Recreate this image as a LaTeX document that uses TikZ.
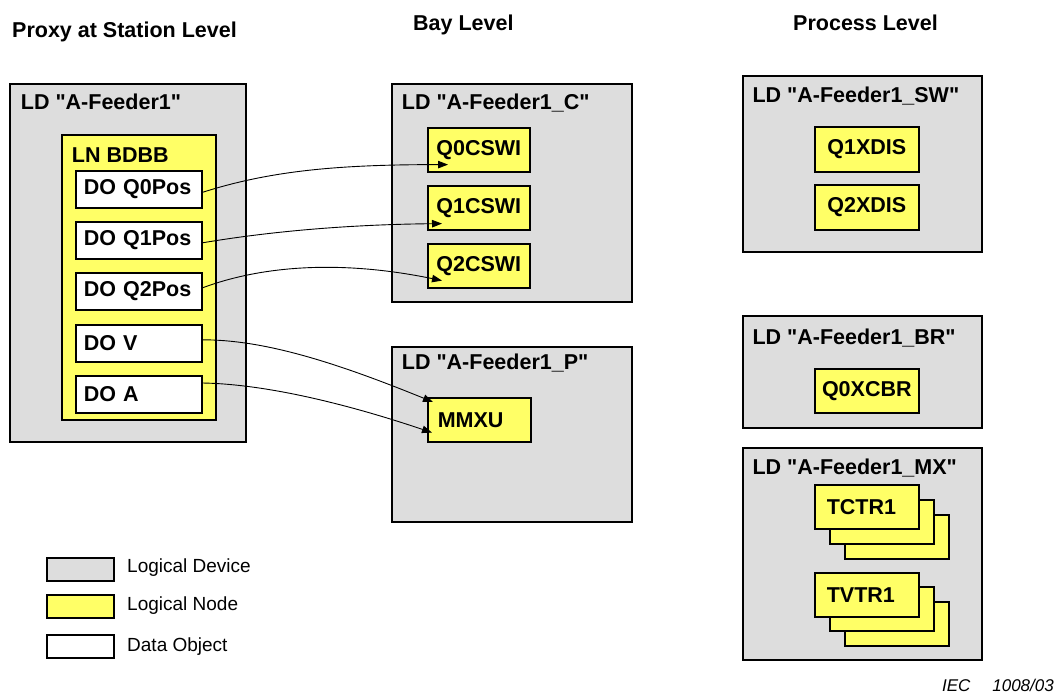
\documentclass[tikz,border=0pt]{standalone}
\usepackage{fontspec}
\setmainfont{Liberation Sans}[Ligatures=TeXOff]
\usetikzlibrary{arrows.meta,calc}
\definecolor{ldgray}{HTML}{DDDDDD}
\definecolor{lnyellow}{HTML}{FFFF66}
\begin{document}
\begin{tikzpicture}[x=1pt,y=-1pt,
  box/.style={draw=black, line width=1.6pt, anchor=north west, inner sep=0pt, font=\fontsize{21.5}{25}\selectfont\bfseries},
  ldbox/.style={box, fill=ldgray},
  lnbox/.style={box, fill=lnyellow},
  dobox/.style={box, fill=white, minimum height=37pt, text width=110pt, inner xsep=8pt, align=left},
  lbl/.style={inner sep=0pt, anchor=base west, font=\fontsize{21.5}{25}\selectfont\bfseries},
  leg/.style={inner sep=0pt, anchor=base west, font=\fontsize{19}{22}\selectfont},
  conn/.style={line width=0.9pt, -{Triangle[length=10pt,width=7.5pt]}}
]
\useasboundingbox (0,0) rectangle (1056,699);

% headings
\node[lbl] (h1) at (12,37) {Proxy at Station Level};
\node[lbl] (h2) at (413,30) {Bay Level};
\node[lbl] (h3) at (793,30) {Process Level};

% station level
\node[ldbox, minimum width=236pt, minimum height=358pt] (ld1) at (9,83) {};
\node[lbl] (ld1t) at (20.7,109.5) {LD "A-Feeder1"};
\node[lnbox, minimum width=154pt, minimum height=285pt] (ln1) at (61,134) {};
\node[lbl] (ln1t) at (71.7,162.7) {LN BDBB};
\node[dobox] (q0pos) at (75,170) {DO Q0Pos};
\node[dobox] (q1pos) at (75,221) {DO Q1Pos};
\node[dobox] (q2pos) at (75,272) {DO Q2Pos};
\node[dobox] (dov) at (75,324) {DO V};
\node[dobox] (doa) at (75,375) {DO A};

% bay level
\node[ldbox, minimum width=240pt, minimum height=218pt] (ldc) at (391,83) {};
\node[lbl] (ldct) at (401.7,109.4) {LD "A-Feeder1\_C"};
\node[lnbox, minimum width=102pt, minimum height=44pt] (q0cswi) at (427,127) {Q0CSWI};
\node[lnbox, minimum width=102pt, minimum height=44pt] (q1cswi) at (427,185) {Q1CSWI};
\node[lnbox, minimum width=102pt, minimum height=44pt] (q2cswi) at (427,243) {Q2CSWI};

\node[ldbox, minimum width=240pt, minimum height=175pt] (ldp) at (391,346) {};
\node[lbl] (ldpt) at (401.7,369.4) {LD "A-Feeder1\_P"};
\node[lnbox, minimum height=44pt, text width=83pt, inner xsep=10pt, align=left] (mmxu) at (427,397) {MMXU};

% process level
\node[ldbox, minimum width=239pt, minimum height=176pt] (ldsw) at (742,75) {};
\node[lbl] (ldswt) at (752.3,102) {LD "A-Feeder1\_SW"};
\node[lnbox, minimum width=104pt, minimum height=45pt] (q1xdis) at (814,126) {Q1XDIS};
\node[lnbox, minimum width=104pt, minimum height=45pt] (q2xdis) at (814,184) {Q2XDIS};

\node[ldbox, minimum width=239pt, minimum height=112pt] (ldbr) at (742,315) {};
\node[lbl] (ldbrt) at (752.3,344.4) {LD "A-Feeder1\_BR"};
\node[lnbox, minimum width=104pt, minimum height=44pt] (q0xcbr) at (814,368) {Q0XCBR};

\node[ldbox, minimum width=239pt, minimum height=212pt] (ldmx) at (742,447) {};
\node[lbl] (ldmxt) at (752.3,474.4) {LD "A-Feeder1\_MX"};
\node[lnbox, minimum width=104pt, minimum height=44pt] (tc3) at (844,514) {};
\node[lnbox, minimum width=104pt, minimum height=44pt] (tc2) at (829,499) {};
\node[lnbox, minimum height=44pt, text width=80pt, inner xsep=12pt, align=left] (tc1) at (814,484) {TCTR1};
\node[lnbox, minimum width=104pt, minimum height=44pt] (tv3) at (844,601) {};
\node[lnbox, minimum width=104pt, minimum height=44pt] (tv2) at (829,586) {};
\node[lnbox, minimum height=44pt, text width=80pt, inner xsep=12pt, align=left] (tv1) at (814,572) {TVTR1};

% connectors
\draw[conn] ($(q0pos.east)+(0,3)$) .. controls +(69,-22) and +(-108,0) .. ($(q0cswi.south west)+(21,-8)$);
\draw[conn] ($(q1pos.east)+(0,2.5)$) .. controls +(59,-10) and +(-102,1) .. ($(q1cswi.south west)+(15,-7)$);
\draw[conn] ($(q2pos.east)+(0,-3.5)$) .. controls +(59,-22) and +(-102,-21) .. ($(q2cswi.south west)+(15,-8)$);
\draw[conn] ($(dov.east)+(0,-3.5)$) .. controls +(59,0) and +(-103,-42) .. ($(mmxu.north west)+(6,5)$);
\draw[conn] ($(doa.north east)+(0,8)$) .. controls +(59,1) and +(-92,-31) .. ($(mmxu.south west)+(5,-10)$);

% legend
\node[box, fill=ldgray, minimum width=67pt, minimum height=23pt] (lg1) at (46,557) {};
\node[box, fill=lnyellow, minimum width=67pt, minimum height=23pt] (lg2) at (46,594) {};
\node[box, fill=white, minimum width=67pt, minimum height=23pt] (lg3) at (46,634) {};
\node[leg] (lg1t) at (127,572) {Logical Device};
\node[leg] (lg2t) at (127,610) {Logical Node};
\node[leg] (lg3t) at (127,651.5) {Data Object};

% credit
\node[inner sep=0pt, anchor=base east, font=\fontsize{17}{20}\selectfont\itshape] (iec) at (1054,691) {IEC\hspace{22pt}1008/03};
\end{tikzpicture}
\end{document}
